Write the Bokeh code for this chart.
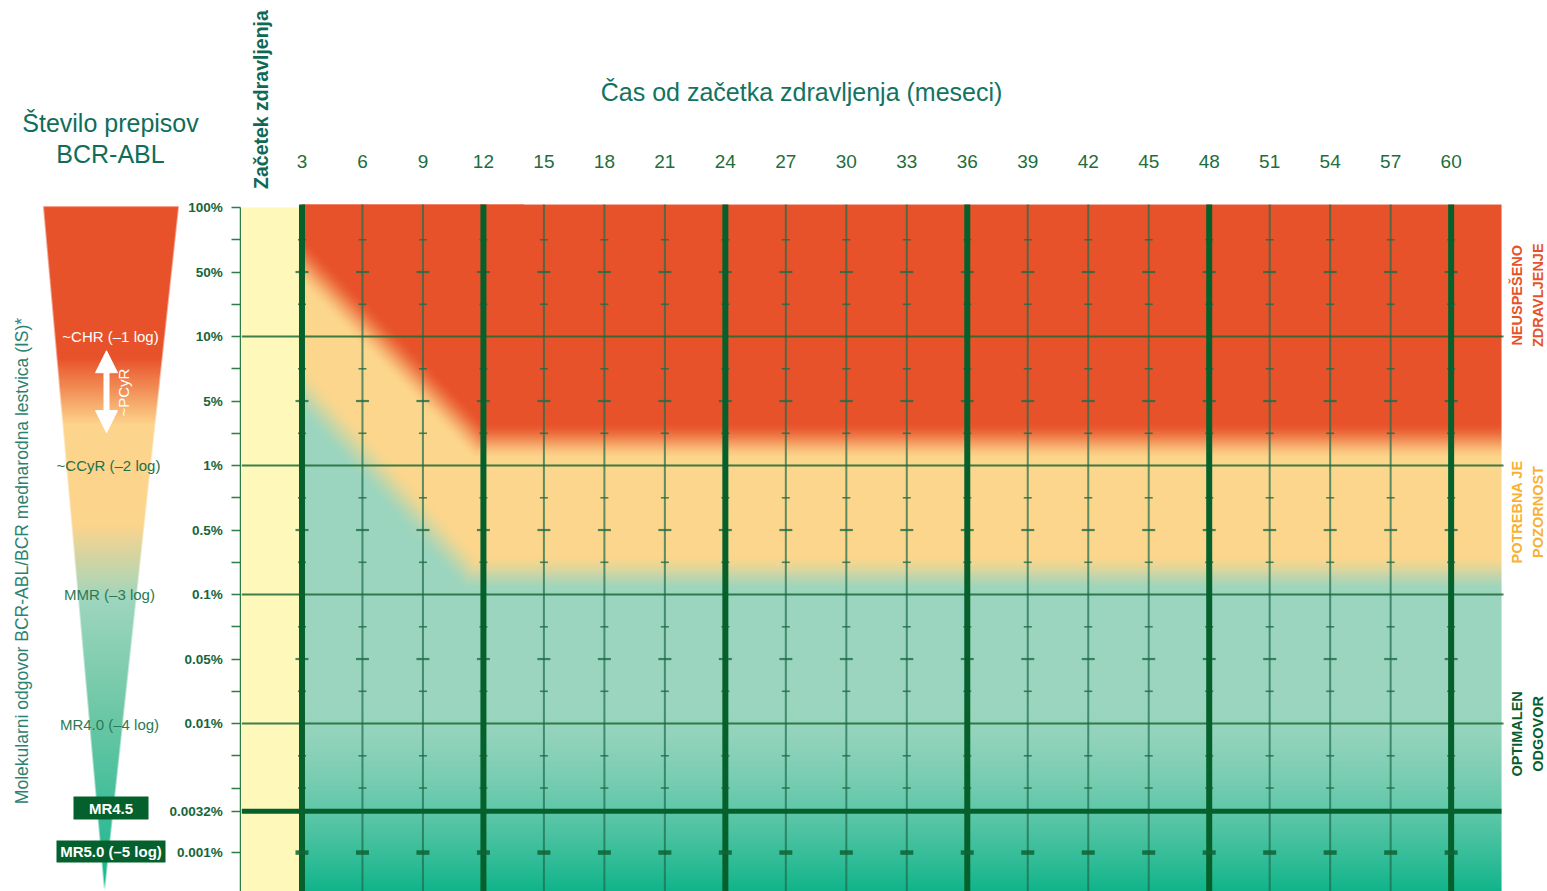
import numpy as np
from bokeh.plotting import figure
from bokeh.layouts import row
from bokeh.models import Range1d, FixedTicker, Arrow, NormalHead, LinearAxis
from bokeh.core.properties import value
from bokeh.embed import file_html
from bokeh.resources import INLINE

# ---------------- data ----------------
months = [3, 6, 9, 12, 15, 18, 21, 24, 27, 30, 33, 36, 39, 42, 45, 48, 51, 54, 57, 60]
month_labels = ["3", "6", "9", "12", "15", "18", "21", "24", "27", "30",
                "33", "36", "39", "42", "45", "48", "51", "54", "57", "60"]
milestone_months = [3, 12, 24, 36, 48, 60]

# schematic log positions: 0 = 100 %, -1 = 10 %, -2 = 1 % ...
y_tick_levels = [0, -0.5, -1, -1.5, -2, -2.5, -3, -3.5, -4, -4.68, -5]
y_tick_labels = ["100%", "50%", "10%", "5%", "1%", "0.5%", "0.1%", "0.05%",
                 "0.01%", "0.0032%", "0.001%"]
y_minor_levels = [-0.25, -0.75, -1.25, -1.75, -2.25, -2.75, -3.25, -3.75, -4.25, -4.5]
decade_levels = [-1, -2, -3, -4]
mr45_level = -4.68
mr50_level = -5

# response zones (month, level)
failure_diag = [(3, -0.42), (12, -1.85)]
failure_flat = -1.815
optimal_diag = [(3, -1.42), (12, -2.95)]
optimal_flat = -2.84
chart_end_month = 62.5

response_labels = ["~CHR (–1 log)", "~CCyR (–2 log)", "MMR (–3 log)", "MR4.0 (–4 log)"]
response_levels = [-1.0, -2.0, -3.0, -4.01]
boxed_labels = ["MR4.5", "MR5.0 (–5 log)"]
boxed_levels = [-4.655, -4.992]
pcyr_range = (-1.11, -1.745)

zone_line1 = ["NEUSPEŠENO", "POTREBNA JE", "OPTIMALEN"]
zone_line2 = ["ZDRAVLJENJE", "POZORNOST", "ODGOVOR"]
zone_levels = [-0.68, -2.36, -4.08]

# ---------------- geometry / style ----------------
PX_M = 20.16      # px per month
PX_L = 129.0      # px per level
Y_BOTTOM, Y_TOP = -5.302, 1.6047
FIELD_TOP = 0.023
X_END = 64.78

RED = np.array([232, 82, 42], float)
YEL = np.array([252, 214, 140], float)
TEAL_L = np.array([155, 213, 191], float)
TEAL_D = np.array([16, 180, 138], float)

DARK = "#05602B"
FONT = value("Liberation Sans")


def smooth(t):
    t = np.clip(t, 0, 1)
    return t * t * (3 - 2 * t)


def below_line(m, L, p0, p1):
    x0, y0 = p0[0] * PX_M, p0[1] * PX_L
    x1, y1 = p1[0] * PX_M, p1[1] * PX_L
    dx, dy = x1 - x0, y1 - y0
    n = np.hypot(dx, dy)
    return -(dx * (L * PX_L - y0) - dy * (m * PX_M - x0)) / n


def teal_color(L):
    t = np.clip((-3.85 - L) / 1.45, 0, 1) ** 1.5
    return TEAL_L + (TEAL_D - TEAL_L) * t[..., None]


def field_rgb(m, L):
    d = np.maximum(below_line(m, L, *failure_diag) / 36.0, (failure_flat - L) * PX_L / 38.0)
    e = np.maximum(below_line(m, L, *optimal_diag) / 38.0, (optimal_flat - L) * PX_L / 38.0)
    ty = smooth(d + 0.5)[..., None]
    tt = smooth(e + 0.5)[..., None]
    rgb = RED * (1 - ty) + YEL * ty
    rgb = rgb * (1 - tt) + teal_color(L) * tt
    return rgb


def pack_rgba(rgb, alpha=None):
    h, w = rgb.shape[:2]
    img = np.empty((h, w), dtype=np.uint32)
    v = img.view(dtype=np.uint8).reshape((h, w, 4))
    v[..., :3] = np.clip(np.round(rgb), 0, 255).astype(np.uint8)
    if alpha is None:
        v[..., 3] = 255
    else:
        v[..., 3] = np.clip(np.round(alpha * 255), 0, 255).astype(np.uint8)
    return img


ny = 687
lv = Y_BOTTOM + (np.arange(ny) + 0.5) * (FIELD_TOP - Y_BOTTOM) / ny
nxd = 220
mv = 3 + (np.arange(nxd) + 0.5) * 11.0 / nxd
M, Lg = np.meshgrid(mv, lv)
diag_img = pack_rgba(field_rgb(M, Lg))
Mf, Lf = np.meshgrid(np.array([40.0, 40.0]), lv)
flat_img = pack_rgba(field_rgb(Mf, Lf))

# triangle (left scale) image
TRI_TOP_L, TRI_TOP_R, TRI_APEX_X, TRI_APEX_L = 43.0, 178.0, 104.0, -5.29
stop_levels = [-5.35, -4.0, -3.05, -2.45, -1.68, -1.17, 0.1]
stop_cols = np.array([[18, 181, 140], [104, 198, 164], [157, 213, 190],
                      [253, 212, 140], [253, 212, 140], [232, 82, 42], [232, 82, 42]], float)
tx0, tx1 = 40.0, 181.0
ntx = 141
nty = 683
txs = tx0 + (np.arange(ntx) + 0.5) * (tx1 - tx0) / ntx
tls = -5.30 + (np.arange(nty) + 0.5) * (0.01 + 5.30) / nty
TX, TL = np.meshgrid(txs, tls)
tri_rgb = np.stack([np.interp(TL, stop_levels, stop_cols[:, k]) for k in range(3)], axis=-1)


def side(px, py, ax, ay, bx, by):
    dx, dy = bx - ax, by - ay
    return (dx * (py - ay) - dy * (px - ax)) / np.hypot(dx, dy)


PY = TL * PX_L
ay = TRI_APEX_L * PX_L
s_left = -side(TX, PY, TRI_APEX_X, ay, TRI_TOP_L, 0.0)
s_right = side(TX, PY, TRI_APEX_X, ay, TRI_TOP_R, 0.0)
s_top = 1.0 - PY
tri_alpha = np.clip(0.5 + np.minimum(np.minimum(s_left, s_right), s_top), 0, 1)
tri_img = pack_rgba(tri_rgb, tri_alpha)

# ---------------- figures ----------------
yr = Range1d(Y_BOTTOM, Y_TOP)

left = figure(width=241, height=891, x_range=Range1d(0, 241), y_range=yr,
              output_backend="svg", toolbar_location=None,
              x_axis_location=None, y_axis_location=None, min_border=0,
              outline_line_color=None, background_fill_color="white",
              border_fill_color="white")
left.xgrid.visible = False
left.ygrid.visible = False

left.image_rgba(image=[tri_img], x=tx0, y=-5.30, dw=tx1 - tx0, dh=5.31)

left.text(x=[110], y=[0.659], text=["Število prepisov"], text_font=FONT,
          text_font_size="25px", text_color="#0F6E5A", text_align="center",
          text_baseline="middle")
left.text(x=[110], y=[0.411], text=["BCR-ABL"], text_font=FONT,
          text_font_size="25px", text_color="#0F6E5A", text_align="center",
          text_baseline="middle")
left.text(x=[21], y=[-2.74], text=["Molekularni odgovor BCR-ABL/BCR mednarodna lestvica (IS)*"],
          angle=np.pi / 2, text_font=FONT, text_font_size="17.5px",
          text_color="#2A8272", text_align="center", text_baseline="middle")

resp_colors = ["white", "#1F7048", "#2A7A55", "#2A7A58"]
resp_x = [110, 108, 109, 109]
left.text(x=resp_x, y=response_levels, text=response_labels, text_font=FONT,
          text_font_size="15px", text_color=resp_colors, text_align="center",
          text_baseline="middle")

left.add_layout(Arrow(start=NormalHead(size=22, fill_color="white", line_color="white"),
                      end=NormalHead(size=22, fill_color="white", line_color="white"),
                      x_start=106, y_start=pcyr_range[1], x_end=106, y_end=pcyr_range[0],
                      line_color="white", line_width=6))
left.text(x=[123], y=[-1.434], text=["~PCyR"], angle=np.pi / 2, text_font=FONT,
          text_font_size="15px", text_color="white", text_align="center",
          text_baseline="middle")

left.rect(x=[110.5, 110.5], y=boxed_levels, width=[75, 109], height=[0.178, 0.171],
          fill_color="#04602D", line_color=None)
left.text(x=[110.5, 110.5], y=boxed_levels, text=boxed_labels, text_font=FONT,
          text_font_style="bold", text_font_size="15px", text_color="white",
          text_align="center", text_baseline="middle")

# BCR-ABL scale axis, drawn at the left edge of the chart
yax = LinearAxis(fixed_location=240.2,
                 ticker=FixedTicker(ticks=y_tick_levels, minor_ticks=y_minor_levels),
                 major_label_overrides={lvl: lab for lvl, lab in zip(y_tick_levels, y_tick_labels)},
                 bounds=(Y_BOTTOM, 0))
yax.axis_line_color = "#2E7D46"
yax.axis_line_width = 1.5
yax.major_tick_in = 0
yax.major_tick_out = 9
yax.minor_tick_in = 0
yax.minor_tick_out = 9
yax.major_tick_line_color = "#2E7D46"
yax.minor_tick_line_color = "#2E7D46"
yax.major_tick_line_width = 1.5
yax.minor_tick_line_width = 1.5
yax.major_label_standoff = 9
yax.major_label_text_font = "Liberation Sans"
yax.major_label_text_font_style = "bold"
yax.major_label_text_font_size = "13.5px"
yax.major_label_text_color = "#17663A"
left.add_layout(yax, "left")

main = figure(width=1306, height=891, x_range=Range1d(0, X_END), y_range=yr,
              output_backend="svg", toolbar_location=None,
              x_axis_location=None, y_axis_location=None, min_border=0,
              outline_line_color=None, background_fill_color="white",
              border_fill_color="white")
main.xgrid.visible = False
main.ygrid.visible = False

# coloured response field
main.image_rgba(image=[flat_img], x=3, y=Y_BOTTOM, dw=chart_end_month - 3,
                dh=FIELD_TOP - Y_BOTTOM)
main.image_rgba(image=[diag_img], x=3, y=Y_BOTTOM, dw=11, dh=FIELD_TOP - Y_BOTTOM)
# treatment start band
main.quad(left=[0], right=[3], top=[0], bottom=[Y_BOTTOM], fill_color="#FEF8BA",
          line_color=None)

thin_months = [m for m in months if m not in milestone_months]
main.segment(x0=thin_months, y0=[FIELD_TOP] * len(thin_months), x1=thin_months,
             y1=[Y_BOTTOM] * len(thin_months), line_color="#1F6E4E", line_alpha=0.72,
             line_width=2)
main.segment(x0=[0] * len(decade_levels), y0=decade_levels,
             x1=[chart_end_month + 0.1] * len(decade_levels), y1=decade_levels,
             line_color="#1D6A35", line_alpha=0.85, line_width=2)

# crosses
half_levels = [l for l in y_tick_levels if l not in decade_levels and l not in (0, mr45_level, mr50_level)]
sx, sy = [], []
for m in months:
    for l in y_minor_levels:
        sx.append(m); sy.append(l)
main.scatter(x=sx, y=sy, marker="dash", size=8, line_width=1.6, line_color="#1D6B47",
             line_alpha=0.8)
wx, wy = [], []
for m in months:
    for l in half_levels:
        wx.append(m); wy.append(l)
main.scatter(x=wx, y=wy, marker="dash", size=13, line_width=2.2, line_color="#1D6B47",
             line_alpha=0.8)

main.segment(x0=milestone_months, y0=[FIELD_TOP] * len(milestone_months), x1=milestone_months,
             y1=[Y_BOTTOM] * len(milestone_months), line_color=DARK, line_width=6)
main.segment(x0=[0], y0=[mr45_level], x1=[chart_end_month], y1=[mr45_level],
             line_color=DARK, line_width=5)
main.scatter(x=months, y=[mr50_level] * len(months), marker="dash", size=13,
             line_width=4.5, line_color="#0E6435", line_alpha=0.85)

# texts
main.text(x=months, y=[0.357] * len(months), text=month_labels, text_font=FONT,
          text_font_size="19px", text_color="#1E6E3C", text_align="center",
          text_baseline="middle")
main.text(x=[27.78], y=[0.899], text=["Čas od začetka zdravljenja (meseci)"], text_font=FONT,
          text_font_size="25px", text_color="#137361", text_align="center",
          text_baseline="middle")
main.text(x=[0.99], y=[0.837], text=["Začetek zdravljenja"], angle=np.pi / 2, text_font=FONT,
          text_font_style="bold", text_font_size="19.5px", text_color="#0F6955",
          text_align="center", text_baseline="middle")

zone_colors = ["#E8522A", "#F8B133", "#075E2D"]
main.text(x=[63.29] * 3, y=zone_levels, text=zone_line1, angle=np.pi / 2, text_font=FONT,
          text_font_style="bold", text_font_size="14.5px", text_color=zone_colors,
          text_align="center", text_baseline="middle")
main.text(x=[64.29] * 3, y=zone_levels, text=zone_line2, angle=np.pi / 2, text_font=FONT,
          text_font_style="bold", text_font_size="14.5px", text_color=zone_colors,
          text_align="center", text_baseline="middle")

layout = row(left, main)
open("out.html", "w").write(file_html(layout, INLINE))
